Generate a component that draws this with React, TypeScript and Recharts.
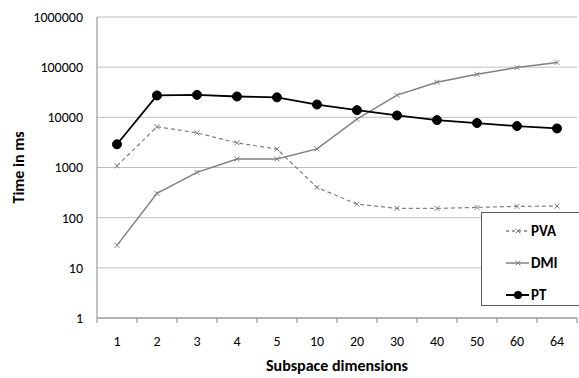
import React from 'react';
import { LineChart, Line, XAxis, YAxis, CartesianGrid, Legend } from 'recharts';

const dims = ['1', '2', '3', '4', '5', '10', '20', '30', '40', '50', '60', '64'];
const pva = [1080, 6500, 4900, 3100, 2330, 400, 186, 153, 153, 160, 168, 170];
const dmi = [28, 305, 800, 1480, 1480, 2350, 9200, 27700, 50000, 72000, 98600, 124000];
const pt = [2900, 27300, 28000, 26000, 25000, 18000, 13900, 10900, 8800, 7700, 6700, 6000];
const yTicks = [1, 10, 100, 1000, 10000, 100000, 1000000];

const data = dims.map((d, i) => ({ dim: d, PVA: pva[i], DMI: dmi[i], PT: pt[i] }));

const FONT = 'Carlito, Calibri, Lato, sans-serif';
const GREY = '#808080';

function Cross(props: any) {
  const { cx, cy, stroke } = props;
  if (cx == null || cy == null) return null;
  const s = 2.5;
  return (
    <g>
      <line x1={cx - s} y1={cy - s} x2={cx + s} y2={cy + s} stroke={stroke} strokeWidth={1} />
      <line x1={cx - s} y1={cy + s} x2={cx + s} y2={cy - s} stroke={stroke} strokeWidth={1} />
    </g>
  );
}

function XTick(props: any) {
  const { x, y, payload, index } = props;
  const half = payload.offset || 20;
  const axisY = y - 16;
  return (
    <g>
      <line x1={x - half} y1={axisY} x2={x - half} y2={axisY + 5} stroke="#868686" />
      {index === dims.length - 1 && (
        <line x1={x + half} y1={axisY} x2={x + half} y2={axisY + 5} stroke="#868686" />
      )}
      <text x={x} y={y} dy={12} textAnchor="middle" fontSize={14} fill="#000" fontFamily={FONT}>
        {payload.value}
      </text>
    </g>
  );
}

const legendItems = [
  { name: 'PVA', dash: '3 3', color: GREY, dot: 'x' },
  { name: 'DMI', dash: undefined, color: GREY, dot: 'x' },
  { name: 'PT', dash: undefined, color: '#000', dot: 'o' },
];

function LegendBox() {
  return (
    <div
      style={{
        width: 100,
        height: 94,
        border: '1px solid #595959',
        background: '#fff',
        boxSizing: 'border-box',
        paddingTop: 2,
      }}
    >
      {legendItems.map((it) => (
        <div key={it.name} style={{ display: 'flex', alignItems: 'center', height: 32, paddingLeft: 24 }}>
          <svg width={24} height={10}>
            <line x1={0} y1={5} x2={23} y2={5} stroke={it.color} strokeWidth={it.dot === 'o' ? 2 : 1.5} strokeDasharray={it.dash} />
            {it.dot === 'o' ? (
              <circle cx={12} cy={5} r={4} fill="#000" />
            ) : (
              <Cross cx={12} cy={5} stroke={it.color} />
            )}
          </svg>
          <span style={{ fontFamily: FONT, fontWeight: 700, fontSize: 15, marginLeft: 1 }}>{it.name}</span>
        </div>
      ))}
    </div>
  );
}

export default function App() {
  return (
    <div style={{ position: 'absolute', left: 0, top: 0, width: 579, height: 378, overflow: 'hidden', background: '#fff' }}>
      <LineChart width={579} height={378} data={data} margin={{ top: 17, right: 2, bottom: 0, left: 0 }}>
        <CartesianGrid horizontal vertical={false} stroke="#bfbfbf" />
        <XAxis
          dataKey="dim"
          scale="band"
          height={60}
          axisLine={{ stroke: '#868686' }}
          tickLine={false}
          tickSize={0}
          tickMargin={16}
          tick={<XTick />}
          interval={0}
          label={{ value: 'Subspace dimensions', position: 'insideBottom', offset: 7, fontFamily: FONT, fontWeight: 700, fontSize: 16, fill: '#000' }}
        />
        <YAxis
          scale="log"
          domain={[1, 1000000]}
          ticks={yTicks}
          allowDataOverflow
          width={97}
          axisLine={{ stroke: '#868686' }}
          tickLine={false}
          tickSize={0}
          tickMargin={14}
          tick={{ fontSize: 14, fill: '#000', fontFamily: FONT }}
          label={({ viewBox }: any) => (
            <text
              x={18}
              y={viewBox.y + viewBox.height / 2}
              transform={`rotate(-90 18 ${viewBox.y + viewBox.height / 2})`}
              textAnchor="middle"
              dominantBaseline="central"
              fontFamily={FONT}
              fontWeight={700}
              fontSize={16}
              fill="#000"
            >
              Time in ms
            </text>
          )}
        />
        <Legend
          layout="vertical"
          align="center"
          verticalAlign="middle"
          content={<LegendBox />}
          wrapperStyle={{ left: 481, top: 212, width: 100 }}
        />
        <Line dataKey="PVA" stroke={GREY} strokeWidth={1.2} strokeDasharray="4 3" dot={<Cross />} isAnimationActive={false} />
        <Line dataKey="DMI" stroke={GREY} strokeWidth={1.5} dot={<Cross />} isAnimationActive={false} />
        <Line dataKey="PT" stroke="#000" strokeWidth={1.8} dot={{ r: 4.5, fill: '#000', stroke: '#000', strokeWidth: 1 }} isAnimationActive={false} />
      </LineChart>
    </div>
  );
}
